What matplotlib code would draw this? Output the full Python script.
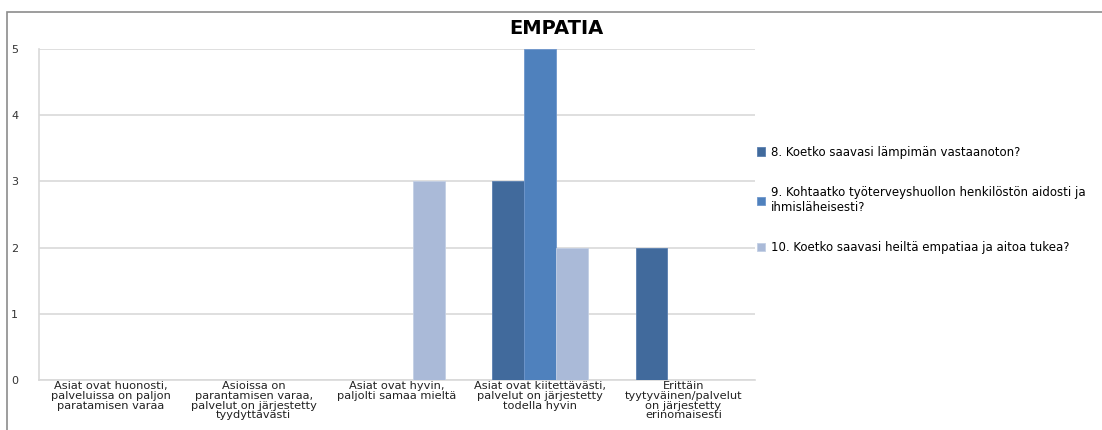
import numpy as np
import matplotlib
matplotlib.use("Agg")
import matplotlib.pyplot as plt
from matplotlib.patches import Rectangle

# ============================================================
# Data
# ============================================================
categories = [
    "Asiat ovat huonosti,\npalveluissa on paljon\nparatamisen varaa",
    "Asioissa on\nparantamisen varaa,\npalvelut on järjestetty\ntyydyttävästi",
    "Asiat ovat hyvin,\npaljolti samaa mieltä",
    "Asiat ovat kiitettävästi,\npalvelut on järjestetty\ntodella hyvin",
    "Erittäin\ntyytyväinen/palvelut\non järjestetty\nerinomaisesti",
]
series_names = [
    "8. Koetko saavasi lämpimän vastaanoton?",
    "9. Kohtaatko työterveyshuollon henkilöstön aidosti ja\nihmisläheisesti?",
    "10. Koetko saavasi heiltä empatiaa ja aitoa tukea?",
]
q8 = [0, 0, 0, 3, 2]
q9 = [0, 0, 0, 5, 0]
q10 = [0, 0, 3, 2, 0]
yticks = [0, 1, 2, 3, 4, 5]

colors = ["#416a9c", "#4f81bd", "#aabad8"]
edges = ["#5a7fb0", "#6f97cc", "#c3cfe4"]

# ============================================================
# Figure
# ============================================================
fig = plt.figure(figsize=(11.02, 4.30), dpi=100)
ax = fig.add_axes([39 / 1102, 1 - 380 / 430, 716 / 1102, 331 / 430])

# outer chart frame
fig.patches.append(Rectangle((7 / 1102, -0.1), 1.2, 0.1 + 1 - 12 / 430,
                             transform=fig.transFigure, fill=False,
                             edgecolor="#8c8c8c", linewidth=1.2))

x = np.arange(len(categories))
w = 1 / 4.5
for i, vals in enumerate([q8, q9, q10]):
    ax.bar(x + (i - 1) * w, vals, width=w, color=colors[i],
           edgecolor=edges[i], linewidth=0.6, label=series_names[i], zorder=3)

ax.set_xlim(-0.5, len(categories) - 0.5)
ax.set_ylim(0, 5)
ax.set_yticks(yticks)
ax.set_yticklabels([str(v) for v in yticks], fontsize=8, color="#333333")
ax.set_xticks(x)
ax.set_xticklabels(categories, fontsize=8.2, color="#222222", linespacing=0.96)
ax.tick_params(axis="both", length=0)
ax.tick_params(axis="y", pad=15)
ax.tick_params(axis="x", pad=1)

ax.grid(axis="y", color="#d9d9d9", linewidth=1.2, zorder=0)
for s in ["top", "right"]:
    ax.spines[s].set_visible(False)
ax.spines["left"].set_color("#d9d9d9")
ax.spines["bottom"].set_color("#d9d9d9")
ax.spines["left"].set_linewidth(1.2)
ax.spines["bottom"].set_linewidth(1.2)

fig.text(0.505, 1 - 28 / 430, "EMPATIA", ha="center", va="center",
         fontsize=14, fontweight="bold")

leg = fig.legend(loc="upper left", bbox_to_anchor=(752 / 1102, 1 - 141 / 430),
                 frameon=False, fontsize=8.5, handlelength=0.7, handleheight=0.7,
                 handletextpad=0.5, labelspacing=2.3, borderaxespad=0)

fig.savefig("out.png", dpi=100)
